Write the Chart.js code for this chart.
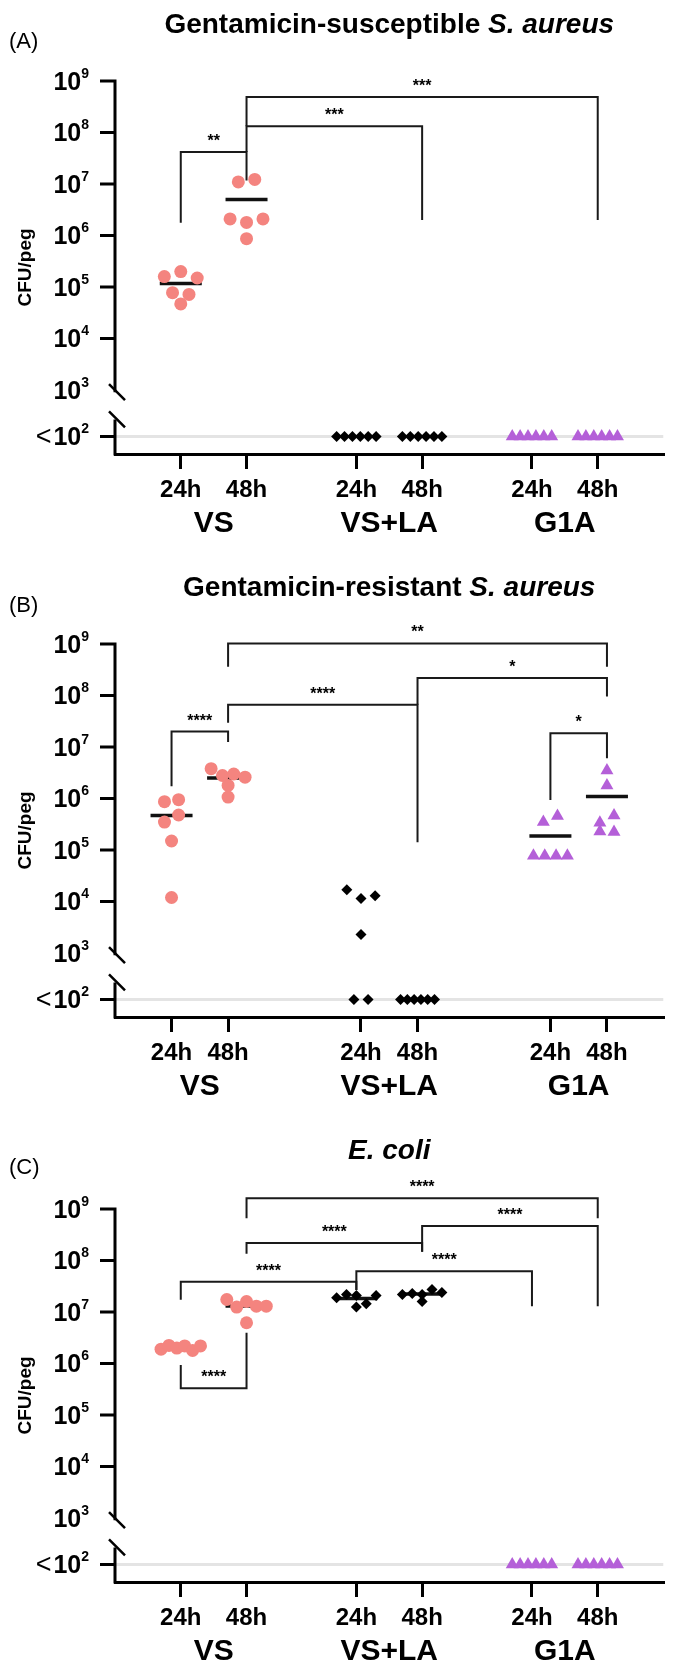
<!DOCTYPE html>
<html>
<head>
<meta charset="utf-8">
<script src="https://cdn.jsdelivr.net/npm/chart.js@4.4.0/dist/chart.umd.min.js"></script>
<style>
  body { margin: 0; background: #fff; }
  .panel { position: absolute; left: 0; width: 688px; }
</style>
</head>
<body>
<div class="panel" style="top:0"><canvas id="chartA" width="688" height="560"></canvas></div>
<div class="panel" style="top:563px"><canvas id="chartB" width="688" height="560"></canvas></div>
<div class="panel" style="top:1128px"><canvas id="chartC" width="688" height="537"></canvas></div>
<script>
// columns: two time points for each treatment
const groups = ['VS', 'VS+LA', 'G1A'];
const times = ['24h', '48h'];
const yPowers = [9, 8, 7, 6, 5, 4];   // 10^3 sits on the axis break

// CFU/peg, one value per peg; 0 means below detection (<10^2)
// (A) gentamicin-susceptible S. aureus
const susVS24 = [1.6e5, 2.0e5, 1.5e5, 7.8e4, 7.2e4, 4.7e4];
const susVS48 = [1.1e7, 1.23e7, 2.1e6, 1.8e6, 2.1e6, 8.7e5];
const susLA24 = [0, 0, 0, 0, 0, 0];
const susLA48 = [0, 0, 0, 0, 0, 0];
const susG1A24 = [0, 0, 0, 0, 0, 0];
const susG1A48 = [0, 0, 0, 0, 0, 0];
// comparisons: column indexes, bracket height and leg ends in log10 CFU
const susBrackets = [
  { from: 0, to: 1, y: 7.62, yFrom: 6.25, yTo: 7.07, label: '**' },
  { from: 1, to: 3, y: 8.12, yFrom: 7.62, yTo: 6.3, label: '***' },
  { from: 1, to: 5, y: 8.69, yFrom: 8.12, yTo: 6.3, label: '***' }
];

// (B) gentamicin-resistant S. aureus
const resVS24 = [8.7e5, 9.5e5, 3.5e5, 4.8e5, 1.5e5, 1.2e4];
const resVS48 = [3.8e6, 2.8e6, 3.0e6, 2.6e6, 1.8e6, 1.07e6];
const resLA24 = [1.7e4, 1.15e4, 1.3e4, 2.3e3, 0, 0];
const resLA48 = [0, 0, 0, 0, 0, 0];
const resG1A24 = [3.5e5, 4.6e5, 7.8e4, 7.8e4, 7.8e4, 7.8e4];
const resG1A48 = [3.5e6, 1.8e6, 2.3e5, 3.4e5, 4.7e5, 2.25e5];
const resBrackets = [
  { from: 0, to: 1, y: 7.30, yFrom: 6.24, yTo: 7.1, label: '****' },
  { from: 1, to: 3, y: 7.82, yFrom: 7.47, yTo: 5.15, label: '****' },
  { from: 3, to: 5, y: 8.34, yFrom: 7.82, yTo: 7.98, label: '*' },
  { from: 1, to: 5, y: 9.01, yFrom: 8.56, yTo: 8.56, label: '**' },
  { from: 4, to: 5, y: 7.27, yFrom: 5.97, yTo: 6.78, label: '*' }
];

// (C) E. coli
const ecoVS24 = [1.9e6, 2.25e6, 2.0e6, 2.2e6, 1.8e6, 2.2e6];
const ecoVS48 = [1.75e7, 1.25e7, 1.6e7, 1.3e7, 1.3e7, 6.2e6];
const ecoLA24 = [1.9e7, 2.2e7, 2.1e7, 1.45e7, 2.1e7, 1.25e7];
const ecoLA48 = [2.2e7, 2.3e7, 2.2e7, 2.75e7, 1.6e7, 2.4e7];
const ecoG1A24 = [0, 0, 0, 0, 0, 0];
const ecoG1A48 = [0, 0, 0, 0, 0, 0];
const ecoBrackets = [
  { from: 1, to: 5, y: 9.21, yFrom: 8.82, yTo: 8.82, label: '****' },
  { from: 3, to: 5, y: 8.67, yFrom: 8.17, yTo: 7.11, label: '****' },
  { from: 1, to: 3, y: 8.34, yFrom: 8.13, yTo: 8.17, label: '****' },
  { from: 2, to: 4, y: 7.79, yFrom: 7.43, yTo: 7.11, label: '****' },
  { from: 0, to: 2, y: 7.59, yFrom: 7.24, yTo: 7.43, label: '****' },
  { from: 0, to: 1, y: 5.52, yFrom: 5.97, yTo: 6.60, label: '****' }
];

const FONT = "'Liberation Sans', Arial, sans-serif";
const LOD_LEVEL = 2.1;          // "<10²" row on the log10 axis
const Y_MIN = 1.76, Y_MAX = 9;
const BREAK_TOP = 2.96, BREAK_BOTTOM = 2.43;
const SPREAD = 0.25, MAX_SPREAD = 0.6, ROW = 0.2;

const markers = [
  { style: 'circle', r: 6.5, color: '#f4847f' },
  { style: 'rectRot', r: 5.5, color: '#000000' },
  { style: 'triangle', r: 7.5, color: '#b45fd8' }
];

function columnPositions(gap) {
  return [1, 2, 2 + gap, 3 + gap, 3 + 2 * gap, 4 + 2 * gap];
}

// lay the pegs of one column out side by side, row by row
function swarm(values, center) {
  const pts = values.map((v, i) => ({ i, y: v > 0 ? Math.log10(v) : LOD_LEVEL }));
  const sorted = [...pts].sort((a, b) => b.y - a.y);
  const out = [];
  let row = [];
  const flush = () => {
    row.sort((a, b) => a.i - b.i);
    const step = row.length > 1 ? Math.min(SPREAD, MAX_SPREAD / (row.length - 1)) : 0;
    row.forEach((p, k) => { out[p.i] = { x: center + (k - (row.length - 1) / 2) * step, y: p.y }; });
    row = [];
  };
  sorted.forEach(p => {
    if (row.length && row[0].y - p.y > ROW) flush();
    row.push(p);
  });
  flush();
  return out;
}

const panelPlugin = {
  id: 'panelText',
  afterDraw(chart, args, opts) {
    const { ctx, chartArea: ca, scales: { x, y } } = chart;
    const ax = ca.left;
    ctx.save();

    // y axis with a break
    ctx.strokeStyle = '#000';
    ctx.lineWidth = 3;
    ctx.beginPath();
    ctx.moveTo(ax, y.getPixelForValue(Y_MAX) - 1.5);
    ctx.lineTo(ax, y.getPixelForValue(BREAK_TOP));
    ctx.moveTo(ax, y.getPixelForValue(BREAK_BOTTOM));
    ctx.lineTo(ax, ca.bottom + 1.5);
    yPowers.concat([LOD_LEVEL]).forEach(v => {
      const py = y.getPixelForValue(v);
      ctx.moveTo(ax - 15, py);
      ctx.lineTo(ax, py);
    });
    ctx.stroke();
    ctx.lineWidth = 2.5;
    ctx.beginPath();
    [BREAK_TOP, BREAK_BOTTOM].forEach(v => {
      const py = y.getPixelForValue(v);
      ctx.moveTo(ax - 6, py - 8);
      ctx.lineTo(ax + 10, py + 8);
    });
    ctx.stroke();

    // y tick labels 10^n
    ctx.fillStyle = '#000';
    ctx.textBaseline = 'middle';
    ctx.textAlign = 'left';
    const baseFont = 'bold 25px ' + FONT, supFont = 'bold 14px ' + FONT;
    const label = (pre, sup, py) => {
      ctx.font = supFont;
      const ws = ctx.measureText(sup).width;
      ctx.font = baseFont;
      const wb = ctx.measureText('10').width;
      const xr = ax - 26;
      ctx.fillText('10', xr - ws - wb, py + 2);
      if (pre) {
        ctx.font = '27px ' + FONT;
        const wp = ctx.measureText(pre).width;
        ctx.fillText(pre, xr - ws - wb - wp - 2, py + 1);
      }
      ctx.font = supFont;
      ctx.fillText(sup, xr - ws, py - 7);
    };
    yPowers.concat([3]).forEach(p => label('', String(p), y.getPixelForValue(p)));
    label('<', '2', y.getPixelForValue(LOD_LEVEL));

    // axis title
    ctx.save();
    ctx.translate(26, (ca.top + ca.bottom) / 2);
    ctx.rotate(-Math.PI / 2);
    ctx.textAlign = 'center';
    ctx.font = 'bold 19px ' + FONT;
    ctx.fillText('CFU/peg', 0, 0);
    ctx.restore();

    // x labels
    ctx.textAlign = 'center';
    opts.pos.forEach((p, i) => {
      ctx.font = 'bold 24px ' + FONT;
      ctx.fillText(times[i % 2], x.getPixelForValue(p), ca.bottom + 36);
    });
    groups.forEach((g, i) => {
      ctx.font = 'bold 30px ' + FONT;
      const cx = (x.getPixelForValue(opts.pos[2 * i]) + x.getPixelForValue(opts.pos[2 * i + 1])) / 2;
      ctx.fillText(g, cx, ca.bottom + 70);
    });

    // significance stars
    ctx.textBaseline = 'alphabetic';
    ctx.font = 'bold 16px ' + FONT;
    opts.brackets.forEach(b => {
      const cx = (x.getPixelForValue(opts.pos[b.from]) + x.getPixelForValue(opts.pos[b.to])) / 2;
      ctx.fillText(b.label, cx, y.getPixelForValue(b.y) - 6);
    });

    // title, species name in italics
    const [plain, ital] = opts.title;
    ctx.font = 'bold 28px ' + FONT;
    const w1 = ctx.measureText(plain).width;
    ctx.font = 'italic bold 28px ' + FONT;
    const w2 = ctx.measureText(ital).width;
    const tx = (ca.left + ca.right) / 2 - (w1 + w2) / 2;
    ctx.textAlign = 'left';
    ctx.textBaseline = 'middle';
    ctx.font = 'bold 28px ' + FONT;
    ctx.fillText(plain, tx, opts.titleY);
    ctx.font = 'italic bold 28px ' + FONT;
    ctx.fillText(ital, tx + w1, opts.titleY);

    ctx.font = '22px ' + FONT;
    ctx.fillText(opts.tag, 9, opts.tagY);
    ctx.restore();
  }
};

function makePanel(id, panel) {
  const pos = columnPositions(panel.gap);
  const xMax = pos[5] + 1;
  const canvas = document.getElementById(id);
  const datasets = [];

  panel.series.forEach((vals, c) => {
    const m = markers[Math.floor(c / 2)];
    datasets.push({
      data: swarm(vals, pos[c]),
      pointStyle: m.style,
      pointRadius: m.r,
      pointBackgroundColor: m.color,
      pointBorderWidth: 0,
      order: 0
    });
    // mean bar only when every peg was countable
    if (vals.every(v => v > 0)) {
      const mean = vals.reduce((a, b) => a + b, 0) / vals.length;
      datasets.push({
        data: [{ x: pos[c], y: Math.log10(mean) }],
        pointStyle: 'line',
        pointRadius: 21,
        pointBorderWidth: 3.5,
        pointBorderColor: '#111',
        order: 1
      });
    }
  });

  panel.brackets.forEach(b => {
    datasets.push({
      data: [
        { x: pos[b.from], y: b.yFrom },
        { x: pos[b.from], y: b.y },
        { x: pos[b.to], y: b.y },
        { x: pos[b.to], y: b.yTo }
      ],
      showLine: true,
      borderColor: '#1a1a1a',
      borderWidth: 2,
      borderJoinStyle: 'miter',
      pointRadius: 0,
      clip: false,
      order: 2
    });
  });

  // detection-limit guide line
  datasets.push({
    data: [{ x: 0, y: LOD_LEVEL }, { x: xMax, y: LOD_LEVEL }],
    showLine: true,
    borderColor: '#e4e4e4',
    borderWidth: 3,
    pointRadius: 0,
    order: 3
  });

  return new Chart(canvas, {
    type: 'scatter',
    data: { datasets },
    options: {
      responsive: false,
      animation: false,
      events: [],
      layout: { padding: { top: 81, left: 115, right: 14, bottom: 0 } },
      plugins: {
        legend: { display: false },
        tooltip: { enabled: false },
        panelText: { pos, brackets: panel.brackets, title: panel.title, titleY: panel.titleY, tag: panel.tag, tagY: panel.tagY }
      },
      scales: {
        x: {
          type: 'linear',
          min: 0,
          max: xMax,
          ticks: { display: false },
          grid: { display: true, drawOnChartArea: false, drawTicks: true, tickLength: 15, color: '#000', lineWidth: 3 },
          border: { display: true, color: '#000', width: 3 },
          afterBuildTicks: s => { s.ticks = pos.map(v => ({ value: v })); },
          afterFit: s => { s.height = canvas.height - 454; }
        },
        y: {
          type: 'linear',
          display: false,
          min: Y_MIN,
          max: Y_MAX
        }
      }
    },
    plugins: [panelPlugin]
  });
}

makePanel('chartA', {
  series: [susVS24, susVS48, susLA24, susLA48, susG1A24, susG1A48],
  brackets: susBrackets, gap: 1.67,
  title: ['Gentamicin-susceptible ', 'S. aureus'], titleY: 25, tag: '(A)', tagY: 42
});
makePanel('chartB', {
  series: [resVS24, resVS48, resLA24, resLA48, resG1A24, resG1A48],
  brackets: resBrackets, gap: 2.35,
  title: ['Gentamicin-resistant ', 'S. aureus'], titleY: 25, tag: '(B)', tagY: 43
});
makePanel('chartC', {
  series: [ecoVS24, ecoVS48, ecoLA24, ecoLA48, ecoG1A24, ecoG1A48],
  brackets: ecoBrackets, gap: 1.67,
  title: ['', 'E. coli'], titleY: 23, tag: '(C)', tagY: 40
});
</script>
</body>
</html>
